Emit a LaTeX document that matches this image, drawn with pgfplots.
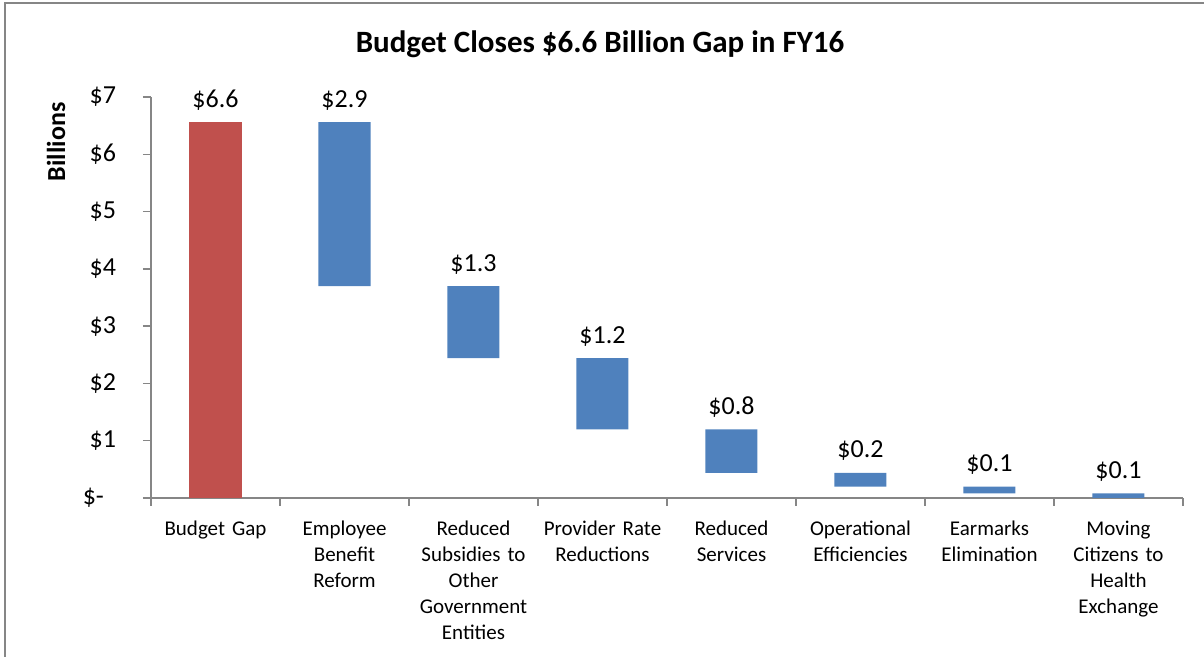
\documentclass[border=0pt]{standalone}
\usepackage{fontspec}
\setmainfont{Carlito}
\usepackage{pgfplots}
\pgfplotsset{compat=1.18}

\definecolor{gapred}{HTML}{C0504D}
\definecolor{cutblue}{HTML}{4F81BD}
\definecolor{axisgray}{HTML}{868686}

\pgfplotsset{
  chartbox/.style={
    at={(75.5pt,79.5pt)}, anchor=south west,
    scale only axis,
    width=516pt, height=200.5pt,
    xmin=-0.5, xmax=7.5,
    ymin=0, ymax=7,
    enlargelimits=false,
    clip=false,
  }
}

\begin{document}
\begin{tikzpicture}
\useasboundingbox (0,0) rectangle (602pt,328.5pt);
% chart frame (only left and top edges show)
\draw[axisgray, line width=1pt] (2.5pt,0) -- (2.5pt,327pt) -- (602pt,327pt);
\node[font=\bfseries\fontsize{15.5}{18}\selectfont, anchor=base] at (300pt,302pt)
  {Budget Closes \$6.6 Billion Gap in FY16};
\begin{axis}[
    chartbox,
    ybar stacked,
    bar width=26pt,
    axis x line*=bottom,
    axis y line*=left,
    axis line style={axisgray, line width=0.75pt},
    tick style={axisgray, line width=0.75pt},
    tick align=outside,
    xtick={0,...,7},
    major x tick style={draw=none},
    minor xtick={-0.5,0.5,...,7.5},
    minor tick length=4pt,
    major tick length=4pt,
    xticklabels={
      Budget Gap,
      Employee\\Benefit\\Reform,
      Reduced\\Subsidies to\\Other\\Government\\Entities,
      Provider Rate\\Reductions,
      Reduced\\Services,
      Operational\\Efficiencies,
      Earmarks\\Elimination,
      Moving\\Citizens to\\Health\\Exchange},
    xticklabel style={font=\fontsize{10.5}{13}\selectfont, text width=70pt,
      align=center, anchor=north, yshift=-4pt},
    ytick={0,...,7},
    yticklabels={\$-\rule{6pt}{0pt},\$1,\$2,\$3,\$4,\$5,\$6,\$7},
    yticklabel style={font=\fontsize{13}{15}\selectfont, xshift=-10pt},
    ylabel={\textbf{Billions}},
    ylabel style={font=\fontsize{13}{15}\selectfont, at={(axis description cs:-0.092,0.888)}, anchor=center},
]
% invisible base of each floating bar
\addplot[draw=none, fill=none] coordinates {
  (0,0) (1,3.70) (2,2.44) (3,1.20) (4,0.44) (5,0.20) (6,0.08) (7,0)
};
% total gap
\addplot[draw=none, fill=gapred] coordinates {
  (0,6.56) (1,0) (2,0) (3,0) (4,0) (5,0) (6,0) (7,0)
};
% reductions
\addplot[draw=none, fill=cutblue] coordinates {
  (0,0) (1,2.86) (2,1.26) (3,1.24) (4,0.76) (5,0.24) (6,0.12) (7,0.08)
};
\end{axis}
% value labels at the top of each bar
\begin{axis}[chartbox, hide axis,
    /pgf/number format/assume math mode=true]
\addplot[draw=none, point meta=explicit,
  nodes near coords={\$\pgfmathprintnumber[fixed,fixed zerofill,precision=1]{\pgfplotspointmeta}},
  nodes near coords style={font=\fontsize{13}{15}\selectfont, anchor=base, yshift=7.5pt, inner sep=0pt, black}
] coordinates {
  (0,6.56) [6.6] (1,6.56) [2.9] (2,3.70) [1.3] (3,2.44) [1.2]
  (4,1.20) [0.8] (5,0.44) [0.2] (6,0.20) [0.1] (7,0.08) [0.1]
};
\end{axis}
\end{tikzpicture}
\end{document}
